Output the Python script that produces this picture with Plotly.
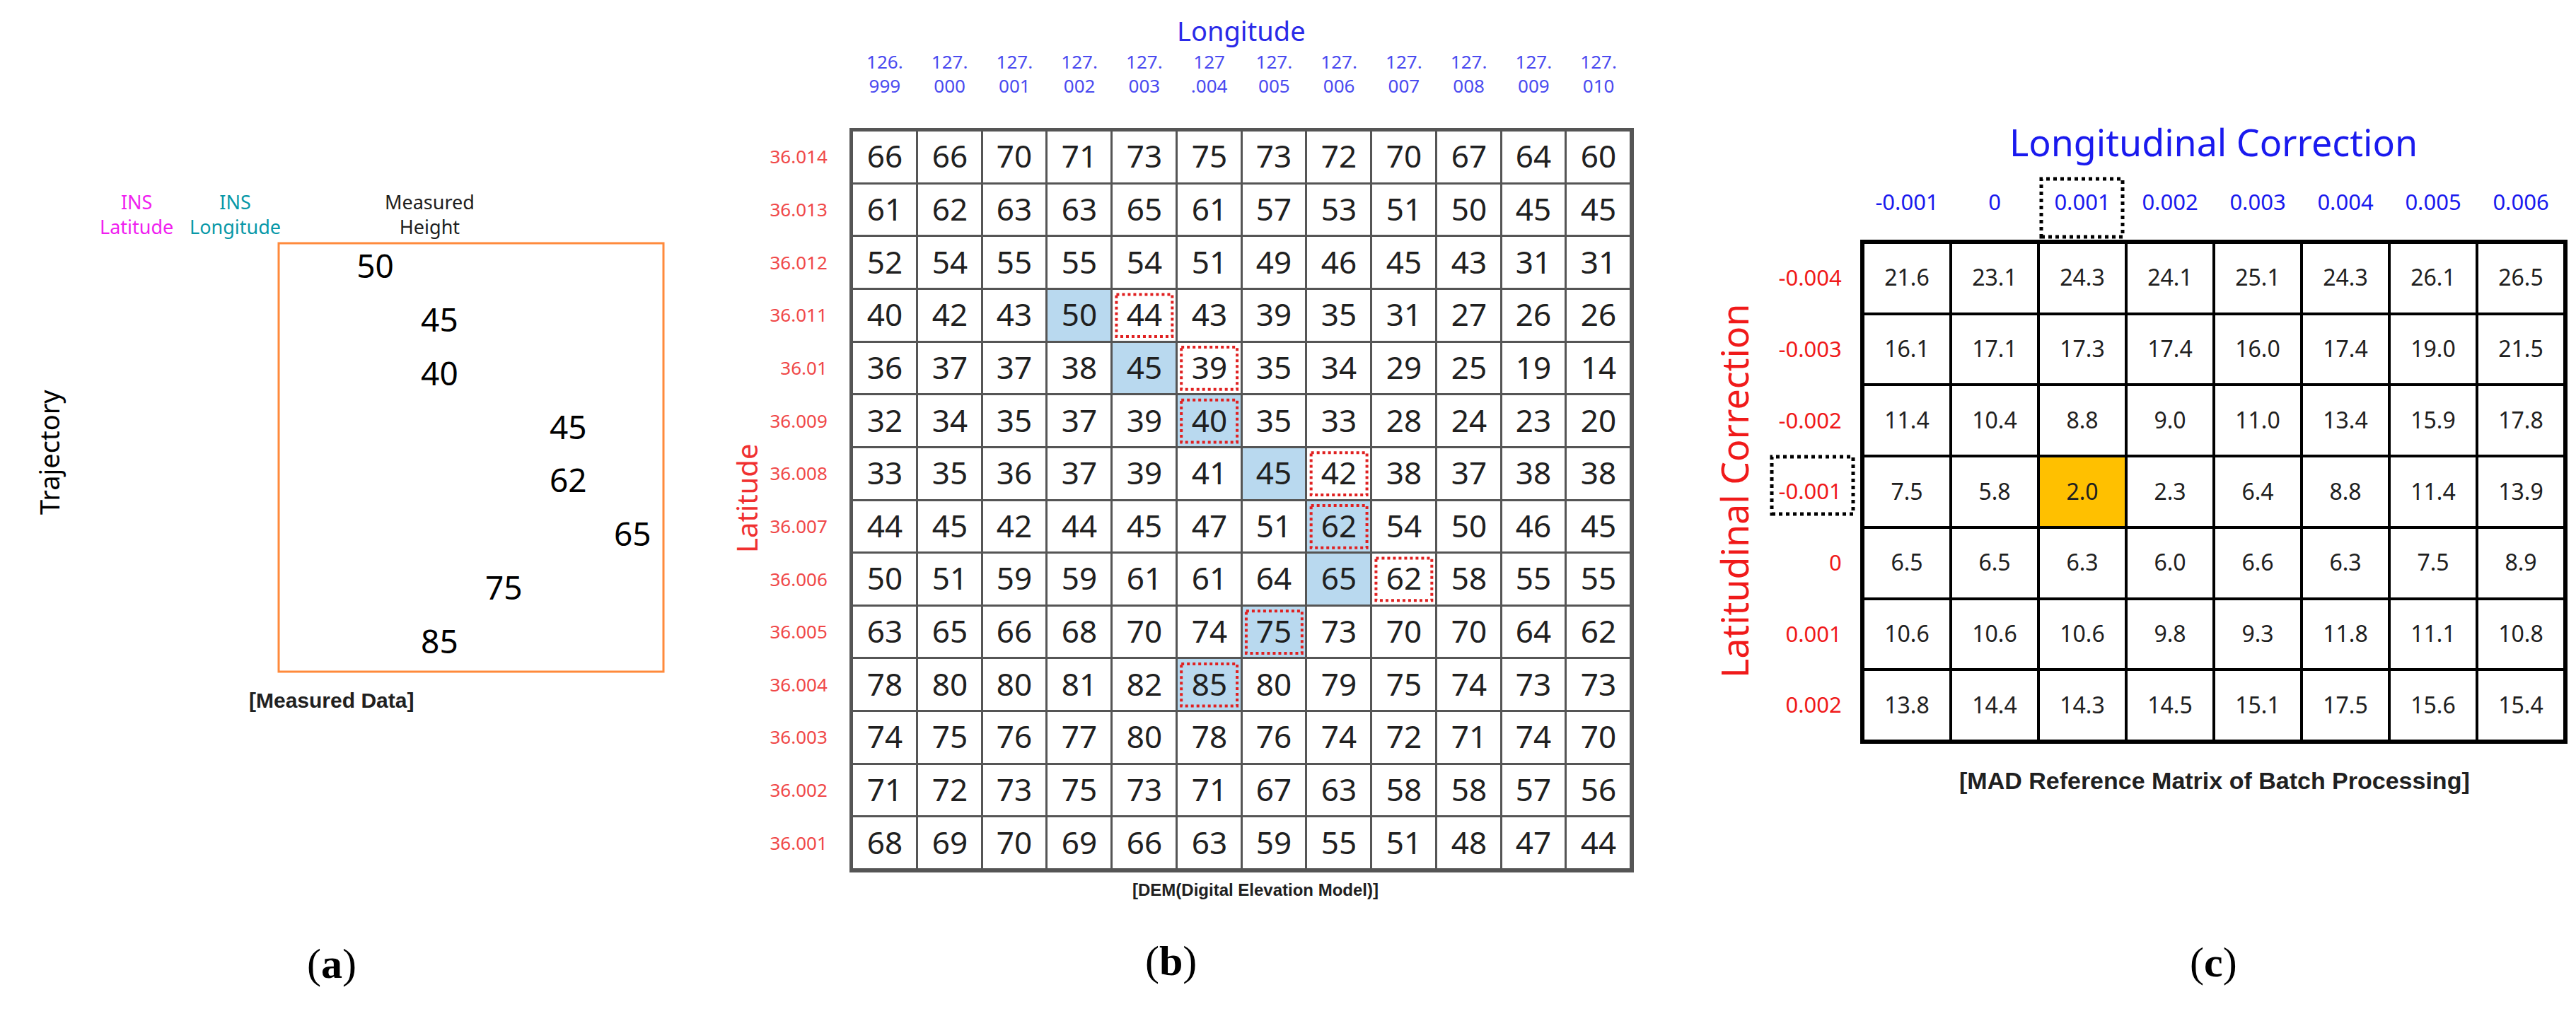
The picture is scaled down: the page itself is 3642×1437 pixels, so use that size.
import plotly.graph_objects as go

W, H = 3642, 1437

# ---- (a) measured data ----
ins_lat = ["36.012", "36.011", "36.01", "36.009", "36.008", "36.007", "36.006", "36.005"]
ins_lat_val = [36.012, 36.011, 36.010, 36.009, 36.008, 36.007, 36.006, 36.005]
ins_lon = ["127.002"] * 8
meas_height = [50, 45, 40, 45, 62, 65, 75, 85]
meas_col = [1, 2, 2, 4, 4, 5, 3, 2]

# ---- (b) DEM ----
dem_lon = ["126.<br>999", "127.<br>000", "127.<br>001", "127.<br>002", "127.<br>003", "127<br>.004",
           "127.<br>005", "127.<br>006", "127.<br>007", "127.<br>008", "127.<br>009", "127.<br>010"]
dem_lat = ["36.014", "36.013", "36.012", "36.011", "36.01", "36.009", "36.008", "36.007",
           "36.006", "36.005", "36.004", "36.003", "36.002", "36.001"]
dem = [
    [66, 66, 70, 71, 73, 75, 73, 72, 70, 67, 64, 60],
    [61, 62, 63, 63, 65, 61, 57, 53, 51, 50, 45, 45],
    [52, 54, 55, 55, 54, 51, 49, 46, 45, 43, 31, 31],
    [40, 42, 43, 50, 44, 43, 39, 35, 31, 27, 26, 26],
    [36, 37, 37, 38, 45, 39, 35, 34, 29, 25, 19, 14],
    [32, 34, 35, 37, 39, 40, 35, 33, 28, 24, 23, 20],
    [33, 35, 36, 37, 39, 41, 45, 42, 38, 37, 38, 38],
    [44, 45, 42, 44, 45, 47, 51, 62, 54, 50, 46, 45],
    [50, 51, 59, 59, 61, 61, 64, 65, 62, 58, 55, 55],
    [63, 65, 66, 68, 70, 74, 75, 73, 70, 70, 64, 62],
    [78, 80, 80, 81, 82, 85, 80, 79, 75, 74, 73, 73],
    [74, 75, 76, 77, 80, 78, 76, 74, 72, 71, 74, 70],
    [71, 72, 73, 75, 73, 71, 67, 63, 58, 58, 57, 56],
    [68, 69, 70, 69, 66, 63, 59, 55, 51, 48, 47, 44],
]
blue_cells = [(3, 3), (4, 4), (5, 5), (6, 6), (7, 7), (8, 7), (9, 6), (10, 5)]
red_cells = [(3, 4), (4, 5), (5, 5), (6, 7), (7, 7), (8, 8), (9, 6), (10, 5)]

# ---- (c) MAD matrix ----
lon_corr = ["-0.001", "0", "0.001", "0.002", "0.003", "0.004", "0.005", "0.006"]
lat_corr = ["-0.004", "-0.003", "-0.002", "-0.001", "0", "0.001", "0.002"]
mad = [
    [21.6, 23.1, 24.3, 24.1, 25.1, 24.3, 26.1, 26.5],
    [16.1, 17.1, 17.3, 17.4, 16.0, 17.4, 19.0, 21.5],
    [11.4, 10.4, 8.8, 9.0, 11.0, 13.4, 15.9, 17.8],
    [7.5, 5.8, 2.0, 2.3, 6.4, 8.8, 11.4, 13.9],
    [6.5, 6.5, 6.3, 6.0, 6.6, 6.3, 7.5, 8.9],
    [10.6, 10.6, 10.6, 9.8, 9.3, 11.8, 11.1, 10.8],
    [13.8, 14.4, 14.3, 14.5, 15.1, 17.5, 15.6, 15.4],
]
best_cell = (3, 2)

fig = go.Figure()

# (a)
fig.add_trace(go.Scatter(x=[c + 0.5 for c in meas_col], y=ins_lat_val, mode="text",
                         text=[str(v) for v in meas_height],
                         textfont=dict(size=46, color="black", family="Noto Sans"),
                         xaxis="x", yaxis="y", cliponaxis=False, showlegend=False))
fig.add_trace(go.Scatter(x=[-2.21] * 8, y=ins_lat_val, mode="text", text=ins_lat,
                         textfont=dict(size=27, color="#f020f0", family="Noto Sans"),
                         xaxis="x", yaxis="y", cliponaxis=False, showlegend=False))
fig.add_trace(go.Scatter(x=[-0.68] * 8, y=ins_lat_val, mode="text", text=ins_lon,
                         textfont=dict(size=27, color="#0898a8", family="Noto Sans"),
                         xaxis="x", yaxis="y", cliponaxis=False, showlegend=False))

# (b)
zb = [[0] * 12 for _ in dem]
for r, c in blue_cells:
    zb[r][c] = 1
fig.add_trace(go.Heatmap(z=zb, text=dem, texttemplate="%{text}",
                         textfont=dict(size=44, color="#202020", family="Noto Sans"),
                         colorscale=[[0, "white"], [1, "#b9d9ef"]], zmin=0, zmax=1,
                         showscale=False, xgap=3, ygap=3, hoverinfo="skip",
                         xaxis="x2", yaxis="y2"))

# (c)
zc = [[0] * 8 for _ in mad]
zc[best_cell[0]][best_cell[1]] = 1
fig.add_trace(go.Heatmap(z=zc, text=[[f"{v:.1f}" for v in row] for row in mad],
                         texttemplate="%{text}",
                         textfont=dict(size=32, color="#202020", family="Noto Sans"),
                         colorscale=[[0, "white"], [1, "#ffc000"]], zmin=0, zmax=1,
                         showscale=False, xgap=4, ygap=4, hoverinfo="skip",
                         xaxis="x3", yaxis="y3"))

shapes = [
    # grid line colour behind the heatmap gaps
    dict(type="rect", xref="x2 domain", yref="y2 domain", x0=0, x1=1, y0=0, y1=1,
         fillcolor="#555555", line=dict(width=0), layer="below"),
    dict(type="rect", xref="x3 domain", yref="y3 domain", x0=0, x1=1, y0=0, y1=1,
         fillcolor="black", line=dict(width=0), layer="below"),
]
for r, c in red_cells:
    shapes.append(dict(type="rect", xref="x2", yref="y2", x0=c - 0.43, x1=c + 0.43,
                       y0=r - 0.4, y1=r + 0.4, line=dict(color="#e02020", width=4, dash="dot")))
# orange box of (a)
shapes.append(dict(type="rect", xref="x domain", yref="y domain", x0=0, x1=1, y0=0, y1=1,
                   line=dict(color="#ff8a3c", width=3)))
# black dotted boxes in (c)
shapes.append(dict(type="rect", xref="paper", yref="paper", x0=2878 / W, x1=2993 / W,
                   y0=1 - 327 / H, y1=1 - 245 / H, line=dict(color="black", width=5, dash="dot")))
shapes.append(dict(type="rect", xref="paper", yref="paper", x0=2497 / W, x1=2612 / W,
                   y0=1 - 719 / H, y1=1 - 638 / H, line=dict(color="black", width=5, dash="dot")))

ann = []
def note(text, x, y, size, color="black", family="Noto Sans", angle=0, **kw):
    ann.append(dict(text=text, x=x / W, y=1 - y / H, xref="paper", yref="paper", showarrow=False,
                    font=dict(size=size, color=color, family=family), textangle=angle,
                    xanchor="center", yanchor="middle", **kw))

note("INS<br>Latitude", 185, 295, 27, "#f020f0")
note("INS<br>Longitude", 324, 295, 27, "#0898a8")
note("Measured<br>Height", 599, 295, 27, "#202020")
note("Trajectory", 61, 632, 38, angle=-90)
note("<b>[Measured Data]</b>", 461, 982, 30, "#202020", "Liberation Sans")
note("(<b>a</b>)", 461, 1355, 60, family="Liberation Serif")
note("Longitude", 1747, 35, 38, "#2a2ae8")
note("Latitude", 1047, 697, 40, "#f03030", angle=-90)
note("<b>[DEM(Digital Elevation Model)]</b>", 1767, 1250, 24, "#202020", "Liberation Sans")
note("(<b>b</b>)", 1647, 1351, 60, family="Liberation Serif")
note("Longitudinal Correction", 3121, 192, 52, "#1a1aee")
note("Latitudinal Correction", 2444, 687, 52, "#f01a1a", angle=-90)
note("<b>[MAD Reference Matrix of Batch Processing]</b>", 3123, 1096, 34, "#202020", "Liberation Sans")
note("(<b>c</b>)", 3121, 1353, 60, family="Liberation Serif")

# arrow of (a)
ann.append(dict(x=-2.91, y=36.01237, ax=-2.91, ay=36.00442, xref="x", yref="y", axref="x", ayref="y",
                showarrow=True, arrowhead=2, arrowsize=1.3, arrowwidth=3, arrowcolor="#707070", text=""))

fig.update_layout(
    width=W, height=H, paper_bgcolor="white", plot_bgcolor="white",
    margin=dict(l=0, r=0, t=0, b=0), shapes=shapes, annotations=ann,
    xaxis=dict(domain=[386 / W, 930 / W], range=[0, 5.98], visible=False, anchor="y"),
    yaxis=dict(domain=[1 - 942 / H, 1 - 336 / H], range=[36.0045, 36.0125], visible=False, anchor="x"),
    xaxis2=dict(domain=[1197 / W, 2298 / W], range=[-0.5, 11.5], side="top", anchor="y2",
                tickvals=list(range(12)), ticktext=dem_lon, showgrid=False, zeroline=False,
                tickfont=dict(size=26, color="#4a4af0", family="Noto Sans"), ticklabelstandoff=40,
                showline=True, mirror=True, linecolor="#555555", linewidth=4, ticks=""),
    yaxis2=dict(domain=[1 - 1222 / H, 1 - 177 / H], range=[13.5, -0.5], anchor="x2",
                tickvals=list(range(14)), ticktext=dem_lat, showgrid=False, zeroline=False,
                tickfont=dict(size=26, color="#f04848", family="Noto Sans"), ticklabelstandoff=26,
                showline=True, mirror=True, linecolor="#555555", linewidth=4, ticks=""),
    xaxis3=dict(domain=[2626 / W, 3618 / W], range=[-0.5, 7.5], side="top", anchor="y3",
                tickvals=list(range(8)), ticktext=lon_corr, showgrid=False, zeroline=False,
                tickfont=dict(size=31, color="#1a1aee", family="Noto Sans"), ticklabelstandoff=30,
                showline=True, mirror=True, linecolor="black", linewidth=4, ticks=""),
    yaxis3=dict(domain=[1 - 1040 / H, 1 - 335 / H], range=[6.5, -0.5], anchor="x3",
                tickvals=list(range(7)), ticktext=lat_corr, showgrid=False, zeroline=False,
                tickfont=dict(size=31, color="#f01a1a", family="Noto Sans"), ticklabelstandoff=20,
                showline=True, mirror=True, linecolor="black", linewidth=4, ticks=""),
)

fig.write_html("out.html")
